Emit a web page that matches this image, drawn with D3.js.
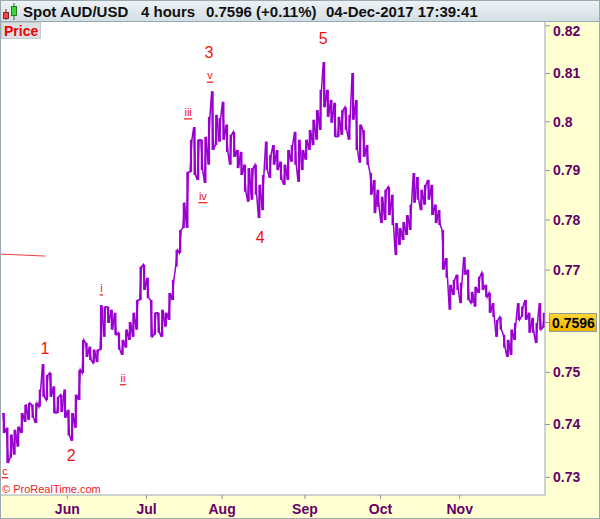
<!DOCTYPE html>
<html>
<head>
<meta charset="utf-8">
<script src="https://cdn.jsdelivr.net/npm/d3@7"></script>
<style>
  body { margin: 0; background: #fff; }
  svg { display: block; font-family: "Liberation Sans", Arial, sans-serif; }
</style>
</head>
<body>
<div id="chart"></div>
<script>
// daily ranges, first trading day 08-May-2017
var firstDay = '2017-05-08';
var high = [0.7421, 0.7393, 0.7380, 0.7389, 0.7395, 0.7421, 0.7437, 0.7440, 0.7437, 0.7440,
  0.7466, 0.7515, 0.7494, 0.7498, 0.7472, 0.7452, 0.7456, 0.7466, 0.7427, 0.7421,
  0.7456, 0.7504, 0.7562, 0.7556, 0.7549, 0.7543, 0.7543, 0.7630, 0.7627, 0.7627,
  0.7621, 0.7615, 0.7576, 0.7562, 0.7582, 0.7597, 0.7615, 0.7640, 0.7706, 0.7710,
  0.7684, 0.7640, 0.7615, 0.7615, 0.7621, 0.7615, 0.7654, 0.7680, 0.7739, 0.7779,
  0.7834, 0.7896, 0.7962, 0.7988, 0.7962, 0.7962, 0.7968, 0.8009, 0.8062, 0.8013,
  0.8007, 0.8040, 0.7993, 0.7972, 0.7978, 0.7941, 0.7937, 0.7911, 0.7904, 0.7904,
  0.7911, 0.7870, 0.7890, 0.7958, 0.7931, 0.7951, 0.7941, 0.7917, 0.7911, 0.7941,
  0.7951, 0.7978, 0.7962, 0.7941, 0.7962, 0.7982, 0.8003, 0.8023, 0.8065, 0.8123,
  0.8065, 0.8044, 0.8038, 0.8009, 0.8023, 0.8029, 0.8013, 0.8100, 0.8044, 0.7993,
  0.7982, 0.7951, 0.7894, 0.7880, 0.7860, 0.7846, 0.7860, 0.7866, 0.7850, 0.7793,
  0.7783, 0.7795, 0.7809, 0.7830, 0.7894, 0.7886, 0.7860, 0.7870, 0.7880, 0.7870,
  0.7830, 0.7819, 0.7779, 0.7723, 0.7670, 0.7680, 0.7690, 0.7674, 0.7725, 0.7700,
  0.7656, 0.7666, 0.7686, 0.7694, 0.7670, 0.7654, 0.7634, 0.7601, 0.7607, 0.7572,
  0.7562, 0.7582, 0.7595, 0.7634, 0.7627, 0.7640, 0.7615, 0.7605, 0.7595, 0.7634,
  0.7615];
var low = [0.7383, 0.7326, 0.7336, 0.7342, 0.7357, 0.7383, 0.7404, 0.7408, 0.7412, 0.7402,
  0.7433, 0.7452, 0.7446, 0.7452, 0.7421, 0.7421, 0.7423, 0.7412, 0.7378, 0.7368,
  0.7393, 0.7446, 0.7498, 0.7529, 0.7523, 0.7517, 0.7519, 0.7543, 0.7568, 0.7595,
  0.7582, 0.7572, 0.7543, 0.7533, 0.7547, 0.7562, 0.7568, 0.7582, 0.7640, 0.7660,
  0.7644, 0.7568, 0.7572, 0.7576, 0.7568, 0.7588, 0.7601, 0.7640, 0.7706, 0.7733,
  0.7783, 0.7783, 0.7896, 0.7890, 0.7880, 0.7900, 0.7874, 0.7911, 0.7941, 0.7951,
  0.7958, 0.7962, 0.7937, 0.7911, 0.7927, 0.7904, 0.7890, 0.7856, 0.7836, 0.7840,
  0.7850, 0.7803, 0.7819, 0.7900, 0.7884, 0.7911, 0.7900, 0.7880, 0.7870, 0.7880,
  0.7917, 0.7911, 0.7876, 0.7900, 0.7921, 0.7941, 0.7951, 0.7962, 0.7982, 0.8029,
  0.8009, 0.7997, 0.7968, 0.7968, 0.7972, 0.7982, 0.7962, 0.8003, 0.7941, 0.7915,
  0.7927, 0.7911, 0.7850, 0.7813, 0.7825, 0.7793, 0.7799, 0.7809, 0.7789, 0.7729,
  0.7749, 0.7759, 0.7769, 0.7779, 0.7834, 0.7840, 0.7819, 0.7830, 0.7840, 0.7809,
  0.7793, 0.7789, 0.7700, 0.7684, 0.7621, 0.7650, 0.7660, 0.7634, 0.7690, 0.7640,
  0.7634, 0.7627, 0.7654, 0.7660, 0.7646, 0.7615, 0.7607, 0.7568, 0.7582, 0.7547,
  0.7529, 0.7533, 0.7562, 0.7601, 0.7607, 0.7601, 0.7576, 0.7576, 0.7556, 0.7582,
  0.7586];
var lastPrice = 0.7596;
var priceTicks = [0.73, 0.74, 0.75, 0.76, 0.77, 0.78, 0.79, 0.8, 0.81, 0.82];
var monthLabels = ['Jun', 'Jul', 'Aug', 'Sep', 'Oct', 'Nov'];

// elliott wave labels: position in trading days, price at text baseline
var waveText = ['1', '2', '3', '4', '5'];
var waveAt = [11.9, 19.2, 57.5, 71.7, 89.2];
var wavePrice = [0.7535, 0.7330, 0.8131, 0.7753, 0.8161];
var subText = ['c', 'i', 'ii', 'iii', 'iv', 'v'];
var subAt = [0.8, 27.6, 33.6, 51.7, 55.8, 57.8];
var subPrice = [0.7304, 0.7656, 0.7481, 0.8011, 0.7840, 0.8087];

var W = 600, H = 519;
var plot = { left: 1, right: 545, top: 22, bottom: 495 };

// trading days (weekdays) from the first day
var days = [];
var dt = new Date(firstDay + 'T00:00:00');
while (days.length < high.length) {
  if (dt.getDay() !== 0 && dt.getDay() !== 6) days.push(new Date(dt));
  dt.setDate(dt.getDate() + 1);
}
var monthStarts = [];
days.forEach(function (d, i) {
  if (i > 0 && d.getMonth() !== days[i - 1].getMonth() &&
      monthLabels.indexOf(d3.timeFormat('%b')(d)) >= 0) monthStarts.push(i);
});

var x = d3.scaleLinear().domain([0, days.length]).range([2, 545.6]);
var y = d3.scaleLog().domain([0.7266, 0.8207]).range([plot.bottom, plot.top]);

var svg = d3.select('#chart').append('svg').attr('width', W).attr('height', H);
var defs = svg.append('defs');
var hg = defs.append('linearGradient').attr('id', 'hdr').attr('x1', 0).attr('y1', 0).attr('x2', 0).attr('y2', 1);
hg.append('stop').attr('offset', 0).attr('stop-color', '#eef3f6');
hg.append('stop').attr('offset', 1).attr('stop-color', '#d2dde3');
var gg = defs.append('linearGradient').attr('id', 'gold').attr('x1', 0).attr('y1', 0).attr('x2', 0).attr('y2', 1);
gg.append('stop').attr('offset', 0).attr('stop-color', '#ffd633');
gg.append('stop').attr('offset', 1).attr('stop-color', '#f0b400');
defs.append('clipPath').attr('id', 'clip').append('rect')
  .attr('x', plot.left).attr('y', plot.top)
  .attr('width', plot.right - plot.left).attr('height', plot.bottom - plot.top);

// backgrounds
svg.append('rect').attr('width', W).attr('height', H).attr('fill', '#ffffd2');
svg.append('rect').attr('x', plot.left).attr('y', plot.top)
  .attr('width', plot.right - plot.left).attr('height', plot.bottom - plot.top)
  .attr('fill', '#fff');
svg.append('rect').attr('width', W).attr('height', plot.top).attr('fill', 'url(#hdr)');

// header
var icon = svg.append('g');
icon.append('line').attr('x1', 6).attr('x2', 6).attr('y1', 9).attr('y2', 20).attr('stroke', '#6b2a2a');
icon.append('rect').attr('x', 3.5).attr('y', 12.5).attr('width', 5).attr('height', 6).attr('fill', '#f04848').attr('stroke', '#8a2a2a');
icon.append('line').attr('x1', 14).attr('x2', 14).attr('y1', 3).attr('y2', 20).attr('stroke', '#2a6b2a');
icon.append('rect').attr('x', 11.5).attr('y', 6.5).attr('width', 5).attr('height', 9).attr('fill', '#3cd43c').attr('stroke', '#2a7a2a');

var hdrParts = [['Spot AUD/USD', 23], ['4 hours', 141], ['0.7596 (+0.11%)', 206], ['04-Dec-2017 17:39:41', 326]];
svg.selectAll('.hdr').data(hdrParts).enter().append('text')
  .attr('x', function (d) { return d[1]; }).attr('y', 17)
  .attr('font-size', 15).attr('font-weight', 'bold').attr('fill', '#111')
  .text(function (d) { return d[0]; });

svg.append('line').attr('x1', 0).attr('x2', W).attr('y1', plot.top - 0.5).attr('y2', plot.top - 0.5).attr('stroke', '#9aa8b0');

// price series
var g = svg.append('g').attr('clip-path', 'url(#clip)');
var pts = [];
high.forEach(function (h, i) {
  var cx = x(i + 0.5);
  var mid = (h + low[i]) / 2;
  var nextMid = i < high.length - 1 ? (high[i + 1] + low[i + 1]) / 2 : mid;
  if (nextMid >= mid) { pts.push([cx - 0.9, y(low[i])]); pts.push([cx + 0.9, y(h)]); }
  else { pts.push([cx - 0.9, y(h)]); pts.push([cx + 0.9, y(low[i])]); }
});
g.append('path').attr('d', d3.line()(pts)).attr('fill', 'none')
  .attr('stroke', '#9a00d0').attr('stroke-width', 1.5);
g.selectAll('.bar').data(high).enter().append('line')
  .attr('x1', function (d, i) { return x(i + 0.5); }).attr('x2', function (d, i) { return x(i + 0.5); })
  .attr('y1', function (d) { return y(d); }).attr('y2', function (d, i) { return y(low[i]); })
  .attr('stroke', '#9a00d0').attr('stroke-width', 2.2);

// trend line stub on the left
g.append('line').attr('x1', x(-0.5)).attr('x2', x(12))
  .attr('y1', y(0.7731)).attr('y2', y(0.7727))
  .attr('stroke', '#f03c3c').attr('stroke-width', 1);

// wave labels
var red = '#f01010';
g.selectAll('.wave').data(waveText).enter().append('text')
  .attr('x', function (d, i) { return x(waveAt[i]); })
  .attr('y', function (d, i) { return y(wavePrice[i]); })
  .attr('text-anchor', 'middle').attr('font-size', 16).attr('fill', red)
  .text(function (d) { return d; });
var sub = g.selectAll('.sub').data(subText).enter().append('g');
sub.append('text')
  .attr('x', function (d, i) { return x(subAt[i]); })
  .attr('y', function (d, i) { return y(subPrice[i]); })
  .attr('text-anchor', 'middle').attr('font-size', 11).attr('fill', red)
  .text(function (d) { return d; });
sub.each(function (d, i) {
  var t = d3.select(this).select('text').node();
  var w = t.getComputedTextLength();
  var cx = x(subAt[i]), by = y(subPrice[i]) + 3;
  d3.select(this).append('line')
    .attr('x1', cx - w / 2 - 0.5).attr('x2', cx + w / 2 + 0.5)
    .attr('y1', by).attr('y2', by)
    .attr('stroke', red).attr('stroke-width', 1.2);
});

// price tag in the top left
svg.append('rect').attr('x', 1.5).attr('y', 22.5).attr('width', 39).attr('height', 16)
  .attr('fill', '#dcdfe2').attr('stroke', '#c5cacd');
svg.append('text').attr('x', 4).attr('y', 36).attr('font-size', 14).attr('font-weight', 'bold')
  .attr('fill', '#f00000').text('Price');

svg.append('text').attr('x', 2).attr('y', 493).attr('font-size', 11).attr('fill', '#f02020')
  .text('\u00a9 ProRealTime.com');

// price axis (the label next to the last price tag is hidden, as in the original)
var ly = y(lastPrice);
var yAxis = svg.append('g').attr('transform', 'translate(' + plot.right + ',0)')
  .call(d3.axisRight(y).tickValues(priceTicks).tickSize(5).tickPadding(3)
    .tickFormat(function (d) { return String(+d.toFixed(2)); }));
yAxis.select('.domain').remove();
yAxis.selectAll('line').attr('stroke', '#8a98a2');
yAxis.selectAll('text').attr('font-size', 14).attr('font-weight', 'bold').attr('fill', '#660066')
  .attr('font-family', '"Liberation Sans", Arial, sans-serif')
  .attr('dy', function (d) { return y(d) < 30 ? (30 - y(d)) + 5 + 'px' : '0.35em'; });
yAxis.selectAll('.tick').filter(function (d) { return Math.abs(y(d) - ly) < 14; }).remove();

// month axis
var xAxis = svg.append('g').attr('transform', 'translate(0,' + plot.bottom + ')')
  .call(d3.axisBottom(x).tickValues(monthStarts).tickSize(4).tickPadding(5)
    .tickFormat(function (i) { return d3.timeFormat('%b')(days[i]); }));
xAxis.select('.domain').remove();
xAxis.selectAll('line').attr('stroke', '#8a98a2');
xAxis.selectAll('text').attr('font-size', 14).attr('font-weight', 'bold').attr('fill', '#660066')
  .attr('font-family', '"Liberation Sans", Arial, sans-serif');

// last price tag
svg.append('line').attr('x1', plot.right).attr('x2', plot.right + 5).attr('y1', ly).attr('y2', ly).attr('stroke', '#8a98a2');
svg.append('rect').attr('x', 549.5).attr('y', ly - 9).attr('width', 47).attr('height', 18)
  .attr('fill', 'url(#gold)').attr('stroke', '#8a9aa6');
svg.append('text').attr('x', 552).attr('y', ly).attr('dy', '0.36em')
  .attr('font-size', 14).attr('font-weight', 'bold').attr('fill', '#000')
  .text(lastPrice.toFixed(4));

// frames
svg.append('rect').attr('x', plot.left - 0.5).attr('y', plot.top - 0.5)
  .attr('width', plot.right - plot.left + 0.5).attr('height', plot.bottom - plot.top + 0.5)
  .attr('fill', 'none').attr('stroke', '#9aa8b0');
svg.append('rect').attr('x', 0.5).attr('y', 0.5).attr('width', W - 1).attr('height', H - 1)
  .attr('fill', 'none').attr('stroke', '#9aa8b0');
</script>
</body>
</html>
